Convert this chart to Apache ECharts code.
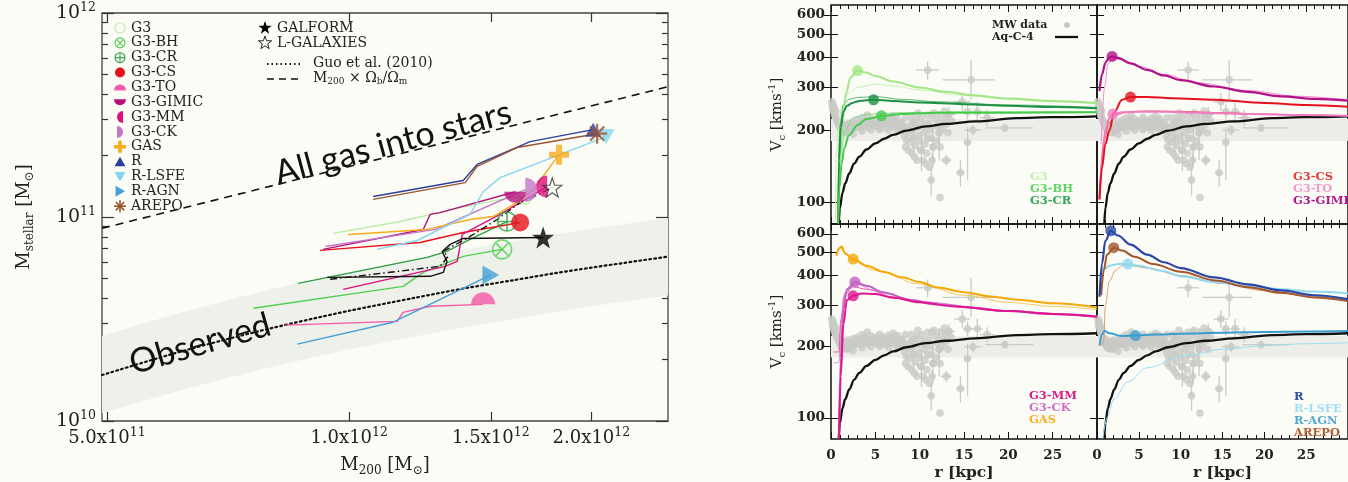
<!DOCTYPE html>
<html>
<head>
<meta charset="utf-8">
<script src="https://cdn.jsdelivr.net/npm/echarts@6/dist/echarts.min.js"></script>
<style>
html,body{margin:0;padding:0;background:#fcfcf7;}
#c{width:1348px;height:482px;}
</style>
</head>
<body>
<div id="c"></div>
<script>
// ===== Left panel: stellar mass vs halo mass. M200 in 1e12 Msun, Mstellar in 1e10 Msun =====
const xTicks = [0.5, 1.0, 1.5, 2.0];
const xTickText = [['5.0x10', '11'], ['1.0x10', '12'], ['1.5x10', '12'], ['2.0x10', '12']];
const yTicks = [1, 10, 100];
const yTickText = [['10', '10'], ['10', '11'], ['10', '12']];
const yMinorTicks = [2, 3, 4, 5, 6, 7, 8, 9, 20, 30, 40, 50, 60, 70, 80, 90];

// Guo et al. (2010) abundance-matching relation and its scatter band
const guoM200 = [0.493, 0.6, 0.7, 0.8, 0.9, 1.0, 1.2, 1.4, 1.6, 1.8, 2.0, 2.2, 2.49];
const guoMstar = [1.68, 2.12, 2.5, 2.85, 3.17, 3.47, 4.0, 4.49, 4.9, 5.3, 5.65, 5.96, 6.4];
const bandUpper = [2.62, 3.29, 3.88, 4.42, 4.91, 5.38, 6.2, 6.96, 7.6, 8.2, 8.76, 9.24, 9.9];
const bandLower = [1.09, 1.37, 1.61, 1.84, 2.05, 2.24, 2.58, 2.9, 3.16, 3.42, 3.65, 3.85, 4.12];
// M200 x Omega_b / Omega_m
const baryonLimit = [[0.493, 8.8], [2.49, 43.5]];

// simulation tracks, last point = final halo
const g3Track = [[0.955, 8.31], [1.157, 9.5], [1.402, 11.3], [1.585, 12.45], [1.655, 12.45]];
const g3bhTrack = [[0.760, 3.57], [1.167, 4.57], [1.236, 5.35], [1.386, 6.41], [1.549, 6.94]];
const g3crTrack = [[0.864, 4.73], [1.250, 6.34], [1.323, 6.78], [1.413, 7.76], [1.571, 9.5]];
const g3csTrack = [[0.920, 6.86], [1.225, 7.50], [1.386, 8.40], [1.631, 9.4]];
const g3toTrack = [[0.833, 2.95], [1.147, 3.08], [1.167, 3.41], [1.261, 3.65], [1.467, 3.73]];
const g3gimicTrack = [[0.928, 6.94], [1.236, 8.69], [1.261, 10.3], [1.297, 10.5], [1.609, 13.3]];
const g3mmTrack = [[0.983, 4.42], [1.316, 5.73], [1.362, 6.06], [1.382, 8.21], [1.540, 10.3], [1.762, 14.1]];
const g3ckTrack = [[0.934, 7.17], [1.28, 8.7], [1.41, 10.3], [1.655, 13.6]];
const gasTrack = [[0.997, 8.21], [1.250, 8.69], [1.413, 9.72], [1.510, 10.05], [1.617, 11.8], [1.693, 13.6], [1.823, 20.2]];
const rTrack = [[1.071, 12.6], [1.157, 13.3], [1.386, 15.1], [1.442, 18.1], [1.678, 23.4], [2.010, 26.8]];
const rlsfeTrack = [[1.083, 6.94], [1.215, 7.67], [1.413, 10.3], [1.467, 13.3], [1.540, 15.6], [1.713, 18.3], [2.086, 24.8]];
const ragnTrack = [[0.862, 2.38], [1.134, 3.05], [1.50, 5.2]];
const arepoTrack = [[1.071, 12.2], [1.394, 14.75], [1.442, 17.7], [1.617, 21.9], [2.033, 25.6]];
const galformTrack = [[0.939, 5.06], [1.261, 5.12], [1.309, 5.35], [1.323, 6.06], [1.305, 6.78], [1.335, 7.34], [1.386, 7.85], [1.742, 7.94]];
const lgalaxiesTrack = [[0.947, 4.95], [1.147, 5.41], [1.297, 5.73], [1.327, 6.41], [1.309, 6.78], [1.413, 8.03], [1.527, 9.72], [1.617, 11.5], [1.788, 13.95]];

// ===== Right panels: circular velocity curves, r in kpc, Vc in km/s =====
const vcTicks = [100, 200, 300, 400, 500, 600];
const rTicks = [0, 5, 10, 15, 20, 25];
const mwBand = [180, 222];

// Milky Way data: dense points [r, v]
const mwPoints = [[0.1,262],[0.15,250],[0.2,244],[0.25,256],[0.3,238],[0.35,247],[0.4,232],[0.5,228],[0.55,240],[0.6,222],[0.7,218],[0.8,214],[0.9,210],[1.0,206],[1.1,203],[1.2,200],[1.3,198],[1.4,197],[1.5,196],[1.6,199],[1.7,197],[1.8,195],[2.0,197],[2.2,199],[2.4,202],[2.6,205],[2.8,204],[3.0,206],[3.2,209],[3.4,212],[3.6,215],[3.8,218],[4.0,221],[4.1,231],[4.3,212],[4.5,210],[4.7,214],[5.0,219],[5.2,216],[5.4,212],[5.6,210],[5.8,214],[6.0,218],[6.2,213],[6.4,209],[6.6,216],[6.8,221],[7.0,228],[7.2,214],[7.4,210],[7.6,206],[7.8,212],[8.0,215],[8.2,200],[8.3,190],[8.5,182],[8.6,205],[8.8,195],[8.9,178],[9.0,210],[9.2,200],[9.3,185],[9.5,172],[9.6,220],[9.8,205],[9.9,190],[10.0,180],[10.1,165],[10.2,225],[10.3,212],[10.5,195],[10.6,175],[10.8,160],[10.9,230],[11.0,215],[11.2,200],[11.3,185],[11.5,170],[11.6,235],[11.8,222],[12.0,208],[12.2,195],[12.4,230],[12.6,215],[12.8,240],[13.0,225],[13.3,232],[13.6,218],[1.2,212],[1.6,210],[2.0,213],[2.5,216],[3.0,220],[3.5,225],[4.5,222],[5.5,226],[6.5,224],[7.5,223],[2.5,192],[3.5,198],[4.5,200],[5.5,201],[6.5,199],[7.5,198],[0.95,215],[1.35,205],[1.75,203],[2.15,206],[2.55,208],[2.95,212],[3.35,205],[3.75,208],[4.15,206],[4.55,215],[4.95,208],[5.35,205],[5.75,220],[6.15,205],[6.55,211],[6.95,206],[7.35,218],[7.75,203],[8.1,208],[8.4,170],[8.7,165],[9.1,160],[9.4,155],[9.7,150],[10.4,150],[10.7,145],[11.1,140],[9.1,225],[9.4,215],[10.6,205],[11.4,230],[12.5,200],[12.9,210],[13.2,195],[11.9,180],[12.3,170],[10.9,185],[9.8,235],[8.4,225]];
// Milky Way data with error bars: [r, v, rLow, rHigh, vLow, vHigh]
const mwErrPoints = [[10.9,355,9.6,12.2,323,385],[15.8,323,12.6,18.5,267,390],[19.6,204,17.4,22.8,196,212],[14.6,133,14.1,15.1,116,150],[12.3,105,12.3,12.3,105,105],[11.3,124,11.0,11.6,107,140],[13.0,150,12.4,13.6,142,158],[11.4,150,11.1,11.7,140,160],[15.4,178,15.0,15.8,124,206],[16.0,200,15.0,17.0,190,210],[14.8,262,13.9,15.7,240,285],[16.5,238,15.9,17.1,215,262],[17.6,225,16.8,18.4,208,242],[15.4,238,14.9,15.9,222,256],[10.2,165,10.2,10.2,135,195],[11.5,170,11.5,11.5,140,205],[12.2,195,12.2,12.2,150,240],[9.3,185,9.3,9.3,160,210],[13.3,232,12.6,14.0,215,250]];

// Aq-C-4 (dark-matter-only reference)
const aqC4 = [[0.88,82],[1.0,95],[1.3,110],[1.6,120],[2.06,132],[2.6,145],[3.2,155],[4,166],[5,176],[6,184],[7,191],[8.5,199],[10.7,207],[13,212],[16.3,217],[20.9,224],[25,226],[30,228]];

// top left: G3, G3-BH, G3-CR
const tlG3 = [[0.8,82],[1.0,140],[1.3,220],[1.7,285],[2.2,330],[3.0,353],[4.0,346],[5.0,335],[7.0,318],[10,300],[13,288],[16,279],[20,270],[25,264],[30,259]];
const tlG3Low = [[0.5,85],[0.6,160],[0.8,200],[1.2,250],[2,285],[3,300],[5,310],[7,305],[10,293],[15,278],[20,268],[25,262],[30,257]];
const tlCR = [[0.8,82],[0.9,150],[1.1,205],[1.4,238],[1.8,252],[2.4,259],[3.2,264],[4.8,267],[7,264],[10,260],[15,256],[20,252],[25,249],[30,246]];
const tlCRLow = [[0.8,100],[1.0,210],[1.4,255],[2,268],[3,273],[5,275],[8,268],[12,262],[20,254],[30,248]];
const tlBH = [[0.8,82],[0.95,115],[1.2,145],[1.5,168],[2,190],[3,210],[4,222],[5.7,229],[8,233],[12,236],[20,236],[30,237]];
const tlBHLow = [[0.8,90],[1.1,160],[1.6,200],[2.5,225],[4,232],[8,236],[15,238],[30,238]];
const tlDots = [[3.0,353],[4.8,267],[5.7,229]];
const tlNames = ['G3', 'G3-BH', 'G3-CR'];

// top right: G3-CS, G3-TO, G3-GIMIC
const trGIMIC = [[0.3,290],[0.6,340],[1.0,380],[1.4,398],[1.8,404],[2.5,398],[4,378],[6,355],[8,337],[10,322],[14,303],[18,288],[22,276],[26,269],[30,265]];
const trGIMICLow = [[0.5,175],[0.9,300],[1.3,375],[1.8,395],[3,392],[5,368],[8,340],[12,314],[18,292],[24,276],[30,267]];
const trTO = [[0.3,103],[0.6,150],[1.0,200],[1.5,225],[1.9,233],[3,237],[5,238],[8,238],[12,236],[18,233],[24,231],[30,229]];
const trCS = [[0.3,103],[0.6,140],[1.0,175],[1.5,200],[2,235],[3,267],[4,274],[6,274],[9,271],[14,267],[20,259],[25,254],[30,250]];
const trCSLow = [[0.3,110],[0.8,180],[1.5,215],[2.5,232],[3.7,238],[6,240],[10,239],[15,236],[20,233],[25,231],[30,229]];
const trDots = [[4,274],[1.9,233],[1.8,404]];
const trNames = ['G3-CS', 'G3-TO', 'G3-GIMIC'];

// bottom left: G3-MM, G3-CK, GAS
const blGAS = [[0.6,485],[0.9,520],[1.2,530],[1.6,495],[2.5,469],[4,440],[6,414],[8,393],[10,375],[12,356],[15,340],[18,326],[21,316],[25,305],[30,293]];
const blGASLow = [[0.6,480],[1.0,525],[1.4,505],[2.5,462],[5,420],[10,368],[15,330],[20,308],[25,296],[30,287]];
const blCK = [[0.9,82],[1.1,180],[1.4,290],[1.8,350],[2.7,375],[4,362],[6,338],[9,315],[12,302],[16,292],[20,283],[25,275],[30,269]];
const blCKLow = [[0.3,170],[0.9,172],[1.1,250],[1.6,340],[2.8,368],[5,345],[10,310],[20,282],[30,266]];
const blMM = [[0.9,82],[1.1,150],[1.4,250],[1.8,315],[2.5,328],[3.5,336],[5,334],[7,322],[10,308],[14,296],[20,283],[25,275],[30,268]];
const blMMLow = [[0.3,190],[0.9,190],[1.1,260],[1.5,330],[2.5,358],[4,350],[7,325],[12,300],[20,282],[30,267]];
const blDots = [[2.5,328],[2.7,375],[2.5,469]];
const blNames = ['G3-MM', 'G3-CK', 'GAS'];

// bottom right: R, R-LSFE, R-AGN, AREPO
const brR = [[0.3,325],[0.6,450],[1.0,560],[1.65,618],[2.5,590],[4,540],[6,490],[8,455],[10,430],[14,393],[18,367],[22,346],[26,330],[30,318]];
const brAREPO = [[0.5,330],[0.8,420],[1.2,490],[2.0,524],[3,510],[4.5,480],[6.7,447],[10,415],[14.2,381],[18,357],[22,338],[26,323],[30,312]];
const brAREPOLow = [[0.5,201],[0.8,210],[1.0,300],[1.5,380],[2.2,420],[3,440],[4,440],[6,430],[10,400],[15,370],[20,345],[25,328],[30,315]];
const brLSFE = [[0.3,399],[0.8,425],[1.5,440],[2.5,447],[3.7,447],[5,440],[7.5,420],[10.4,395],[14,375],[18,360],[22,350],[26,342],[30,336]];
const brLSFELow = [[0.7,82],[1.2,100],[2,120],[3.7,142],[6,163],[10.4,183],[15,195],[20,202],[25,206],[30,208]];
const brAGN = [[0.3,202],[0.6,225],[0.9,233],[1.5,228],[2.9,222],[4.6,223],[7,225],[10,227],[15,229],[20,231],[25,232],[30,233]];
const brDots = [[1.65,618],[3.7,447],[4.6,223],[2.0,524]];
const brNames = ['R', 'R-LSFE', 'R-AGN', 'AREPO'];

// ===== styling =====
const SERIF = 'DejaVu Serif';
const INK = '#222';
const SYM = {
  crossCircle: 'path://M10,0A10,10 0 1 1 9.99,0ZM2.93,2.93L17.07,17.07M17.07,2.93L2.93,17.07',
  plusCircle: 'path://M10,0A10,10 0 1 1 9.99,0ZM10,0L10,20M0,10L20,10',
  halfUp: 'path://M0,10A10,10 0 0 1 20,10Z',
  halfDown: 'path://M0,0A10,10 0 0 0 20,0Z',
  halfLeft: 'path://M10,0A10,10 0 0 0 10,20Z',
  halfRight: 'path://M0,0A10,10 0 0 1 0,20Z',
  plus: 'path://M7,0H13V7H20V13H13V20H7V13H0V7H7Z',
  asterisk: 'path://M10,0L10,20M0,10L20,10M2.93,2.93L17.07,17.07M17.07,2.93L2.93,17.07',
  star: 'path://M10,0L12.35,6.76L19.51,6.91L13.8,11.24L15.88,18.09L10,14L4.12,18.09L6.2,11.24L0.49,6.91L7.65,6.76Z',
  triUp: 'path://M10,0L20,17.3L0,17.3Z',
  triDown: 'path://M0,0L20,0L10,17.3Z',
  triRight: 'path://M0,0L17.3,10L0,20Z'
};
const STAR_PTS = [[10,0],[12.35,6.76],[19.51,6.91],[13.8,11.24],[15.88,18.09],[10,14],[4.12,18.09],[6.2,11.24],[0.49,6.91],[7.65,6.76]];

const leftModels = [
  {name: 'G3', data: g3Track, color: '#b9eda3', mark: 'ring', size: [13, 13], fill: false},
  {name: 'G3-BH', data: g3bhTrack, color: '#52cf52', mark: 'crossCircle', size: [19, 19], fill: false},
  {name: 'G3-CR', data: g3crTrack, color: '#2e9e46', mark: 'plusCircle', size: [19, 19], fill: false},
  {name: 'G3-CS', data: g3csTrack, color: '#e8101c', mark: 'disc', size: [18, 18], fill: true},
  {name: 'G3-TO', data: g3toTrack, color: '#f35aa8', mark: 'halfUp', size: [24, 12], fill: true, offset: [0, -6]},
  {name: 'G3-GIMIC', data: g3gimicTrack, color: '#b5127f', mark: 'halfDown', size: [22, 11], fill: true, offset: [0, 5.5]},
  {name: 'G3-MM', data: g3mmTrack, color: '#de0f80', mark: 'halfLeft', size: [11, 22], fill: true, offset: [-5.5, 0]},
  {name: 'G3-CK', data: g3ckTrack, color: '#c475c8', mark: 'halfRight', size: [12, 24], fill: true, offset: [6, 0]},
  {name: 'GAS', data: gasTrack, color: '#f7ab1c', mark: 'plus', size: [20, 20], fill: true},
  {name: 'R', data: rTrack, color: '#2b3f9c', mark: 'triUp', size: [16, 14], fill: true},
  {name: 'R-LSFE', data: rlsfeTrack, color: '#86d4f0', mark: 'triDown', size: [17, 15], fill: true},
  {name: 'R-AGN', data: ragnTrack, color: '#45a0d6', mark: 'triRight', size: [17, 19], fill: true},
  {name: 'AREPO', data: arepoTrack, color: '#9c5430', mark: 'asterisk', size: [20, 20], fill: false}
];

const panels = [
  {curves: [[tlG3Low, '#c8f2b4', 1], [tlCRLow, '#5cb877', 1], [tlBHLow, '#86dc86', 1], [tlG3, '#a2e685', 2], [tlCR, '#1f8f45', 2], [tlBH, '#47c94c', 2]],
   dots: tlDots, dotColors: ['#a2e685', '#1f8f45', '#47c94c'],
   names: tlNames, nameColors: ['#c6efb2', '#62d262', '#34a65a'], nameX: 1030, nameY: 177},
  {curves: [[trGIMICLow, '#f28ccb', 1], [trCSLow, '#ee6262', 1], [trTO, '#f07cc0', 2], [trCS, '#e3121d', 2], [trGIMIC, '#b0128a', 2.2]],
   dots: trDots, dotColors: ['#e3121d', '#f07cc0', '#b0128a'],
   names: trNames, nameColors: ['#e33a3a', '#f29acb', '#b01890'], nameX: 1293, nameY: 177},
  {curves: [[blGASLow, '#f8c860', 1], [blCKLow, '#d890d8', 1], [blMMLow, '#ea5cb0', 1], [blGAS, '#f6a700', 2], [blCK, '#c25ec6', 2], [blMM, '#e01590', 2]],
   dots: blDots, dotColors: ['#e01590', '#c25ec6', '#f6a700'],
   names: blNames, nameColors: ['#d81b8c', '#cc70cc', '#f5b020'], nameX: 1029, nameY: 396},
  {curves: [[brLSFELow, '#9edcf2', 1], [brAREPOLow, '#dca070', 1], [brLSFE, '#8fd8f2', 2], [brAGN, '#3a9dd0', 2], [brAREPO, '#a4562a', 2], [brR, '#2b47a6', 2.2]],
   dots: brDots, dotColors: ['#2b47a6', '#8fd8f2', '#3a9dd0', '#a4562a'],
   names: brNames, nameColors: ['#3050a8', '#a0e0f5', '#55aad5', '#b06030'], nameX: 1294, nameY: 397}
];

// ===== helpers =====
function nearestIndex(arr, v) {
  let best = 0;
  arr.forEach((a, i) => { if (Math.abs(a - v) < Math.abs(arr[best] - v)) best = i; });
  return best;
}
const supRich = {
  m: {fontFamily: SERIF, fontSize: 18, color: INK, lineHeight: 24},
  b: {fontFamily: SERIF, fontSize: 19, color: INK, lineHeight: 24},
  e: {fontFamily: SERIF, fontSize: 12.5, color: INK, verticalAlign: 'top', lineHeight: 15},
  s: {fontFamily: SERIF, fontSize: 12, color: INK, verticalAlign: 'bottom', lineHeight: 13}
};

// ===== axes =====
const xAxes = [];
const yAxes = [];

function leftX(pos, labels) {
  return {
    type: 'log', gridIndex: 0, position: pos, min: 0.493, max: 2.49,
    axisLine: {show: false}, splitLine: {show: false},
    axisTick: {show: true, inside: true, length: 9, customValues: xTicks, lineStyle: {color: '#333', width: 1.2}},
    axisLabel: {
      show: labels, margin: 5, customValues: xTicks, rich: supRich,
      formatter: v => { const i = nearestIndex(xTicks, v); return '{m|' + xTickText[i][0] + '}{e|' + xTickText[i][1] + '}'; }
    },
    name: labels ? '{m|M}{s|200}{m| [M}{s|\u2299}{m|]}' : '', nameLocation: 'middle', nameGap: 32,
    nameTextStyle: {rich: supRich}
  };
}
function leftY(pos, minor, labels) {
  return {
    type: 'log', gridIndex: 0, position: pos, min: 1, max: 100,
    axisLine: {show: false}, splitLine: {show: false},
    axisTick: {show: true, inside: true, length: minor ? 6 : 12, customValues: minor ? yMinorTicks : yTicks, lineStyle: {color: '#333', width: 1.2}},
    axisLabel: {
      show: labels, margin: 6, customValues: yTicks, rich: supRich,
      formatter: v => { const i = nearestIndex(yTicks, v); return '{b|' + yTickText[i][0] + '}{e|' + yTickText[i][1] + '}'; }
    },
    name: labels ? '{m|M}{s|stellar}{m| [M}{s|\u2299}{m|]}' : '', nameLocation: 'middle', nameGap: 66,
    nameTextStyle: {rich: supRich}
  };
}
xAxes.push(leftX('bottom', true), leftX('top', false));
yAxes.push(leftY('left', false, true), leftY('left', true, false), leftY('right', false, false), leftY('right', true, false));

const rightRich = {
  v: {fontFamily: SERIF, fontSize: 15, color: INK, lineHeight: 20},
  s: {fontFamily: SERIF, fontSize: 10, color: INK, verticalAlign: 'bottom', lineHeight: 12},
  t: {fontFamily: SERIF, fontSize: 10, color: INK, verticalAlign: 'top', lineHeight: 12}
};
for (let p = 0; p < 4; p++) {
  const grid = p + 1;
  const bottomRow = p >= 2;
  const leftCol = p % 2 === 0;
  const tick = {show: true, inside: true, length: 7, lineStyle: {color: '#111', width: 1}};
  ['bottom', 'top'].forEach(pos => {
    const labels = bottomRow && pos === 'bottom';
    xAxes.push({
      type: 'value', gridIndex: grid, position: pos, min: 0, max: 30, interval: 5,
      axisLine: {show: false}, splitLine: {show: false},
      axisTick: tick,
      minorTick: {show: true, splitNumber: 5, length: 4, lineStyle: {color: '#111', width: 1}},
      axisLabel: {show: labels, margin: 9, customValues: rTicks, color: INK, fontFamily: SERIF, fontWeight: 'bold', fontSize: 13.5},
      name: labels ? 'r [kpc]' : '', nameLocation: 'middle', nameGap: 26,
      nameTextStyle: {fontFamily: SERIF, fontWeight: 'bold', fontSize: 15.5, color: INK}
    });
  });
  ['left', 'right'].forEach(pos => {
    const labels = leftCol && pos === 'left';
    yAxes.push({
      type: 'log', gridIndex: grid, position: pos, min: 81.5, max: 660,
      axisLine: {show: false}, splitLine: {show: false},
      axisTick: {show: true, inside: true, length: 7, customValues: vcTicks, lineStyle: {color: '#111', width: 1}},
      axisLabel: {show: labels, margin: 6, customValues: vcTicks, color: INK, fontFamily: SERIF, fontWeight: 'bold', fontSize: 13.5},
      name: labels ? '{v|V}{s|c}{v| [kms}{t|-1}{v|]}' : '', nameLocation: 'middle', nameGap: 44,
      nameTextStyle: {rich: rightRich}
    });
  });
}

// ===== series =====
const series = [];

// observed scatter band
series.push({
  type: 'custom', xAxisIndex: 0, yAxisIndex: 0, data: [[1, 5]], silent: true, z: 1, clip: true,
  renderItem: (params, api) => {
    const pts = [];
    guoM200.forEach((m, i) => pts.push(api.coord([m, bandUpper[i]])));
    for (let i = guoM200.length - 1; i >= 0; i--) pts.push(api.coord([guoM200[i], bandLower[i]]));
    return {type: 'polygon', shape: {points: pts}, style: {fill: '#eef0ea'}};
  }
});
series.push({
  type: 'line', xAxisIndex: 0, yAxisIndex: 0, data: guoM200.map((m, i) => [m, guoMstar[i]]),
  showSymbol: false, smooth: 0.3, silent: true, z: 2,
  lineStyle: {color: '#111', width: 2.2, type: [1.8, 3.2], cap: 'round'}
});
series.push({
  type: 'line', xAxisIndex: 0, yAxisIndex: 0, data: baryonLimit, showSymbol: false, silent: true, z: 2,
  lineStyle: {color: '#111', width: 1.6, type: [8, 6]}
});
leftModels.forEach(m => {
  series.push({
    type: 'line', name: m.name, xAxisIndex: 0, yAxisIndex: 0, data: m.data, showSymbol: false, silent: true, z: 3,
    lineStyle: {color: m.color, width: 1.4}
  });
});
series.push({
  type: 'line', name: 'GALFORM', xAxisIndex: 0, yAxisIndex: 0, data: galformTrack, showSymbol: false, silent: true, z: 3,
  lineStyle: {color: '#111', width: 1.4}
});
series.push({
  type: 'line', name: 'L-GALAXIES', xAxisIndex: 0, yAxisIndex: 0, data: lgalaxiesTrack, showSymbol: false, silent: true, z: 3,
  lineStyle: {color: '#111', width: 1.4, type: [7, 3, 1.5, 3]}
});
leftModels.forEach(m => {
  const sym = (m.mark === 'disc' || m.mark === 'ring') ? 'circle' : SYM[m.mark];
  series.push({
    type: 'scatter', xAxisIndex: 0, yAxisIndex: 0, data: [m.data[m.data.length - 1]], silent: true, z: 5,
    symbol: sym, symbolSize: m.size, symbolOffset: m.offset || [0, 0],
    itemStyle: m.fill ? {color: m.color} : {color: 'rgba(0,0,0,0)', borderColor: m.color, borderWidth: m.mark === 'asterisk' ? 2.2 : 1.6}
  });
});
series.push({
  type: 'scatter', xAxisIndex: 0, yAxisIndex: 0, data: [galformTrack[galformTrack.length - 1]], silent: true, z: 5,
  symbol: SYM.star, symbolSize: 22, itemStyle: {color: '#000'}
});
series.push({
  type: 'scatter', xAxisIndex: 0, yAxisIndex: 0, data: [lgalaxiesTrack[lgalaxiesTrack.length - 1]], silent: true, z: 5,
  symbol: SYM.star, symbolSize: 19, itemStyle: {color: 'rgba(0,0,0,0)', borderColor: '#333', borderWidth: 1.2}
});

panels.forEach((pan, p) => {
  const xi = 2 + p * 2;
  const yi = 4 + p * 2;
  series.push({
    type: 'custom', xAxisIndex: xi, yAxisIndex: yi, data: [[15, 200]], silent: true, z: 1, clip: true,
    renderItem: (params, api) => {
      const a = api.coord([0, mwBand[1]]);
      const b = api.coord([30, mwBand[0]]);
      return {type: 'rect', shape: {x: a[0], y: a[1], width: b[0] - a[0], height: b[1] - a[1]}, style: {fill: '#ededea'}};
    }
  });
  series.push({
    type: 'custom', xAxisIndex: xi, yAxisIndex: yi, data: mwErrPoints, silent: true, z: 2, clip: true,
    encode: {x: 0, y: 1},
    renderItem: (params, api) => {
      const r = api.value(0), v = api.value(1);
      const a = api.coord([api.value(2), v]), b = api.coord([api.value(3), v]);
      const c = api.coord([r, api.value(4)]), d = api.coord([r, api.value(5)]);
      const st = {stroke: '#cacac6', lineWidth: 1.3};
      return {type: 'group', children: [
        {type: 'line', shape: {x1: a[0], y1: a[1], x2: b[0], y2: b[1]}, style: st},
        {type: 'line', shape: {x1: c[0], y1: c[1], x2: d[0], y2: d[1]}, style: st}
      ]};
    }
  });
  series.push({
    type: 'scatter', xAxisIndex: xi, yAxisIndex: yi, data: mwPoints.concat(mwErrPoints.map(q => [q[0], q[1]])),
    symbol: 'circle', symbolSize: 7.5, silent: true, z: 2, itemStyle: {color: '#c9c9c5'}
  });
  series.push({
    type: 'line', xAxisIndex: xi, yAxisIndex: yi, data: aqC4, showSymbol: false, smooth: 0.35, smoothMonotone: 'x',
    silent: true, z: 3, lineStyle: {color: '#111', width: 2.3}
  });
  pan.curves.forEach(c => {
    series.push({
      type: 'line', xAxisIndex: xi, yAxisIndex: yi, data: c[0], showSymbol: false, smooth: 0.35, smoothMonotone: 'x',
      silent: true, z: 4, lineStyle: {color: c[1], width: c[2]}
    });
  });
  series.push({
    type: 'scatter', xAxisIndex: xi, yAxisIndex: yi, data: pan.dots.map((d, i) => ({value: d, itemStyle: {color: pan.dotColors[i]}})),
    symbol: 'circle', symbolSize: 11, silent: true, z: 6
  });
});

// ===== legends and annotations (graphic primitives) =====
const els = [];
function starPolygon(cx, cy, s) {
  return STAR_PTS.map(q => [cx + (q[0] - 10) * s / 20, cy + (q[1] - 10) * s / 20]);
}
function legendIcon(mark, color, filled, cx, cy) {
  const fillSt = {fill: color};
  const strokeSt = {fill: 'none', stroke: color, lineWidth: mark === 'asterisk' ? 1.6 : 1.1};
  const ln = (x1, y1, x2, y2) => ({type: 'line', shape: {x1: cx + x1, y1: cy + y1, x2: cx + x2, y2: cy + y2}, style: strokeSt});
  const PI = Math.PI;
  switch (mark) {
    case 'disc': return {type: 'circle', shape: {cx: cx, cy: cy, r: 5}, style: fillSt};
    case 'ring': return {type: 'circle', shape: {cx: cx, cy: cy, r: 5}, style: strokeSt};
    case 'crossCircle': return {type: 'group', children: [{type: 'circle', shape: {cx: cx, cy: cy, r: 5}, style: strokeSt}, ln(-3.5, -3.5, 3.5, 3.5), ln(3.5, -3.5, -3.5, 3.5)]};
    case 'plusCircle': return {type: 'group', children: [{type: 'circle', shape: {cx: cx, cy: cy, r: 5}, style: strokeSt}, ln(0, -5, 0, 5), ln(-5, 0, 5, 0)]};
    case 'halfUp': return {type: 'sector', shape: {cx: cx, cy: cy + 3, r: 6, r0: 0, startAngle: PI, endAngle: 2 * PI}, style: fillSt};
    case 'halfDown': return {type: 'sector', shape: {cx: cx, cy: cy - 3, r: 6, r0: 0, startAngle: 0, endAngle: PI}, style: fillSt};
    case 'halfLeft': return {type: 'sector', shape: {cx: cx + 3, cy: cy, r: 6, r0: 0, startAngle: PI / 2, endAngle: 3 * PI / 2}, style: fillSt};
    case 'halfRight': return {type: 'sector', shape: {cx: cx - 3, cy: cy, r: 6, r0: 0, startAngle: -PI / 2, endAngle: PI / 2}, style: fillSt};
    case 'plus': return {type: 'polygon', shape: {points: [[-1.8,-6],[1.8,-6],[1.8,-1.8],[6,-1.8],[6,1.8],[1.8,1.8],[1.8,6],[-1.8,6],[-1.8,1.8],[-6,1.8],[-6,-1.8],[-1.8,-1.8]].map(q => [cx + q[0], cy + q[1]])}, style: fillSt};
    case 'triUp': return {type: 'polygon', shape: {points: [[cx, cy - 5], [cx + 5.5, cy + 4.5], [cx - 5.5, cy + 4.5]]}, style: fillSt};
    case 'triDown': return {type: 'polygon', shape: {points: [[cx - 5.5, cy - 4.5], [cx + 5.5, cy - 4.5], [cx, cy + 5]]}, style: fillSt};
    case 'triRight': return {type: 'polygon', shape: {points: [[cx - 4.5, cy - 5.5], [cx + 5, cy], [cx - 4.5, cy + 5.5]]}, style: fillSt};
    case 'asterisk': return {type: 'group', children: [ln(0, -6, 0, 6), ln(-6, 0, 6, 0), ln(-4.2, -4.2, 4.2, 4.2), ln(4.2, -4.2, -4.2, 4.2)]};
  }
  return {type: 'group', children: []};
}
const LEG_FONT = '14px "DejaVu Serif"';
leftModels.forEach((m, i) => {
  const cy = 28 + i * 14.85;
  const icon = legendIcon(m.mark, m.color, m.fill, 120, cy);
  icon.z = 100;
  els.push(icon);
  els.push({type: 'text', z: 100, x: 131, y: cy, style: {text: m.name, font: LEG_FONT, fill: INK, verticalAlign: 'middle'}});
});
els.push({type: 'polygon', z: 100, shape: {points: starPolygon(265, 28, 14)}, style: {fill: '#000'}});
els.push({type: 'text', z: 100, x: 277, y: 28, style: {text: 'GALFORM', font: LEG_FONT, fill: INK, verticalAlign: 'middle'}});
els.push({type: 'polygon', z: 100, shape: {points: starPolygon(265, 43, 14)}, style: {fill: 'none', stroke: '#222', lineWidth: 1}});
els.push({type: 'text', z: 100, x: 277, y: 43, style: {text: 'L-GALAXIES', font: LEG_FONT, fill: INK, verticalAlign: 'middle'}});
els.push({type: 'line', z: 100, shape: {x1: 267, y1: 64, x2: 300, y2: 64}, style: {stroke: '#111', lineWidth: 1.8, lineDash: [1.5, 3]}});
els.push({type: 'text', z: 100, x: 313, y: 63, style: {text: 'Guo et al. (2010)', font: LEG_FONT, fill: INK, verticalAlign: 'middle'}});
els.push({type: 'line', z: 100, shape: {x1: 267, y1: 79, x2: 300, y2: 79}, style: {stroke: '#111', lineWidth: 1.4, lineDash: [7, 5]}});
els.push({type: 'text', z: 100, x: 313, y: 78, style: {
  text: '{a|M}{s|200}{a| \u00d7 \u03a9}{s|b}{a|/\u03a9}{s|m}', verticalAlign: 'middle',
  rich: {a: {fontFamily: SERIF, fontSize: 14, fill: INK, lineHeight: 16}, s: {fontFamily: SERIF, fontSize: 9, fill: INK, verticalAlign: 'bottom', lineHeight: 10}}
}});

els.push({type: 'text', z: 100, x: 393, y: 143, rotation: 15 * Math.PI / 180, style: {text: 'All gas into stars', font: '34px Lato', fill: '#111', align: 'center', verticalAlign: 'middle'}});
els.push({type: 'text', z: 100, x: 200, y: 344, rotation: 16 * Math.PI / 180, style: {text: 'Observed', font: '34px Lato', fill: '#111', align: 'center', verticalAlign: 'middle'}});

// right-column legends
els.push({type: 'text', z: 100, x: 992, y: 25, style: {text: 'MW data', font: 'bold 11px "DejaVu Serif"', fill: INK, verticalAlign: 'middle'}});
els.push({type: 'circle', z: 100, shape: {cx: 1067, cy: 25, r: 3}, style: {fill: '#c9c9c5'}});
els.push({type: 'text', z: 100, x: 992, y: 37, style: {text: 'Aq-C-4', font: 'bold 11px "DejaVu Serif"', fill: INK, verticalAlign: 'middle'}});
els.push({type: 'line', z: 100, shape: {x1: 1055, y1: 37, x2: 1078, y2: 37}, style: {stroke: '#111', lineWidth: 2.3}});
panels.forEach(pan => {
  pan.names.forEach((n, i) => {
    els.push({type: 'text', z: 100, x: pan.nameX, y: pan.nameY + i * 12, style: {text: n, font: 'bold 11.5px "DejaVu Serif"', fill: pan.nameColors[i], verticalAlign: 'middle'}});
  });
});

const gridBase = {show: true, backgroundColor: 'transparent', containLabel: false};
const option = {
  backgroundColor: '#fcfcf7',
  animation: false,
  grid: [
    Object.assign({left: 102, top: 13, width: 566, height: 409, borderColor: '#444', borderWidth: 1.3}, gridBase),
    Object.assign({left: 831, top: 5, width: 266, height: 219, borderColor: '#111', borderWidth: 1.5}, gridBase),
    Object.assign({left: 1097, top: 5, width: 268, height: 219, borderColor: '#111', borderWidth: 1.5}, gridBase),
    Object.assign({left: 831, top: 224, width: 266, height: 219, borderColor: '#111', borderWidth: 1.5}, gridBase),
    Object.assign({left: 1097, top: 224, width: 268, height: 219, borderColor: '#111', borderWidth: 1.5}, gridBase)
  ],
  xAxis: xAxes,
  yAxis: yAxes,
  series: series,
  graphic: {elements: els}
};

const chart = echarts.init(document.getElementById('c'));
chart.setOption(option);
</script>
</body>
</html>
